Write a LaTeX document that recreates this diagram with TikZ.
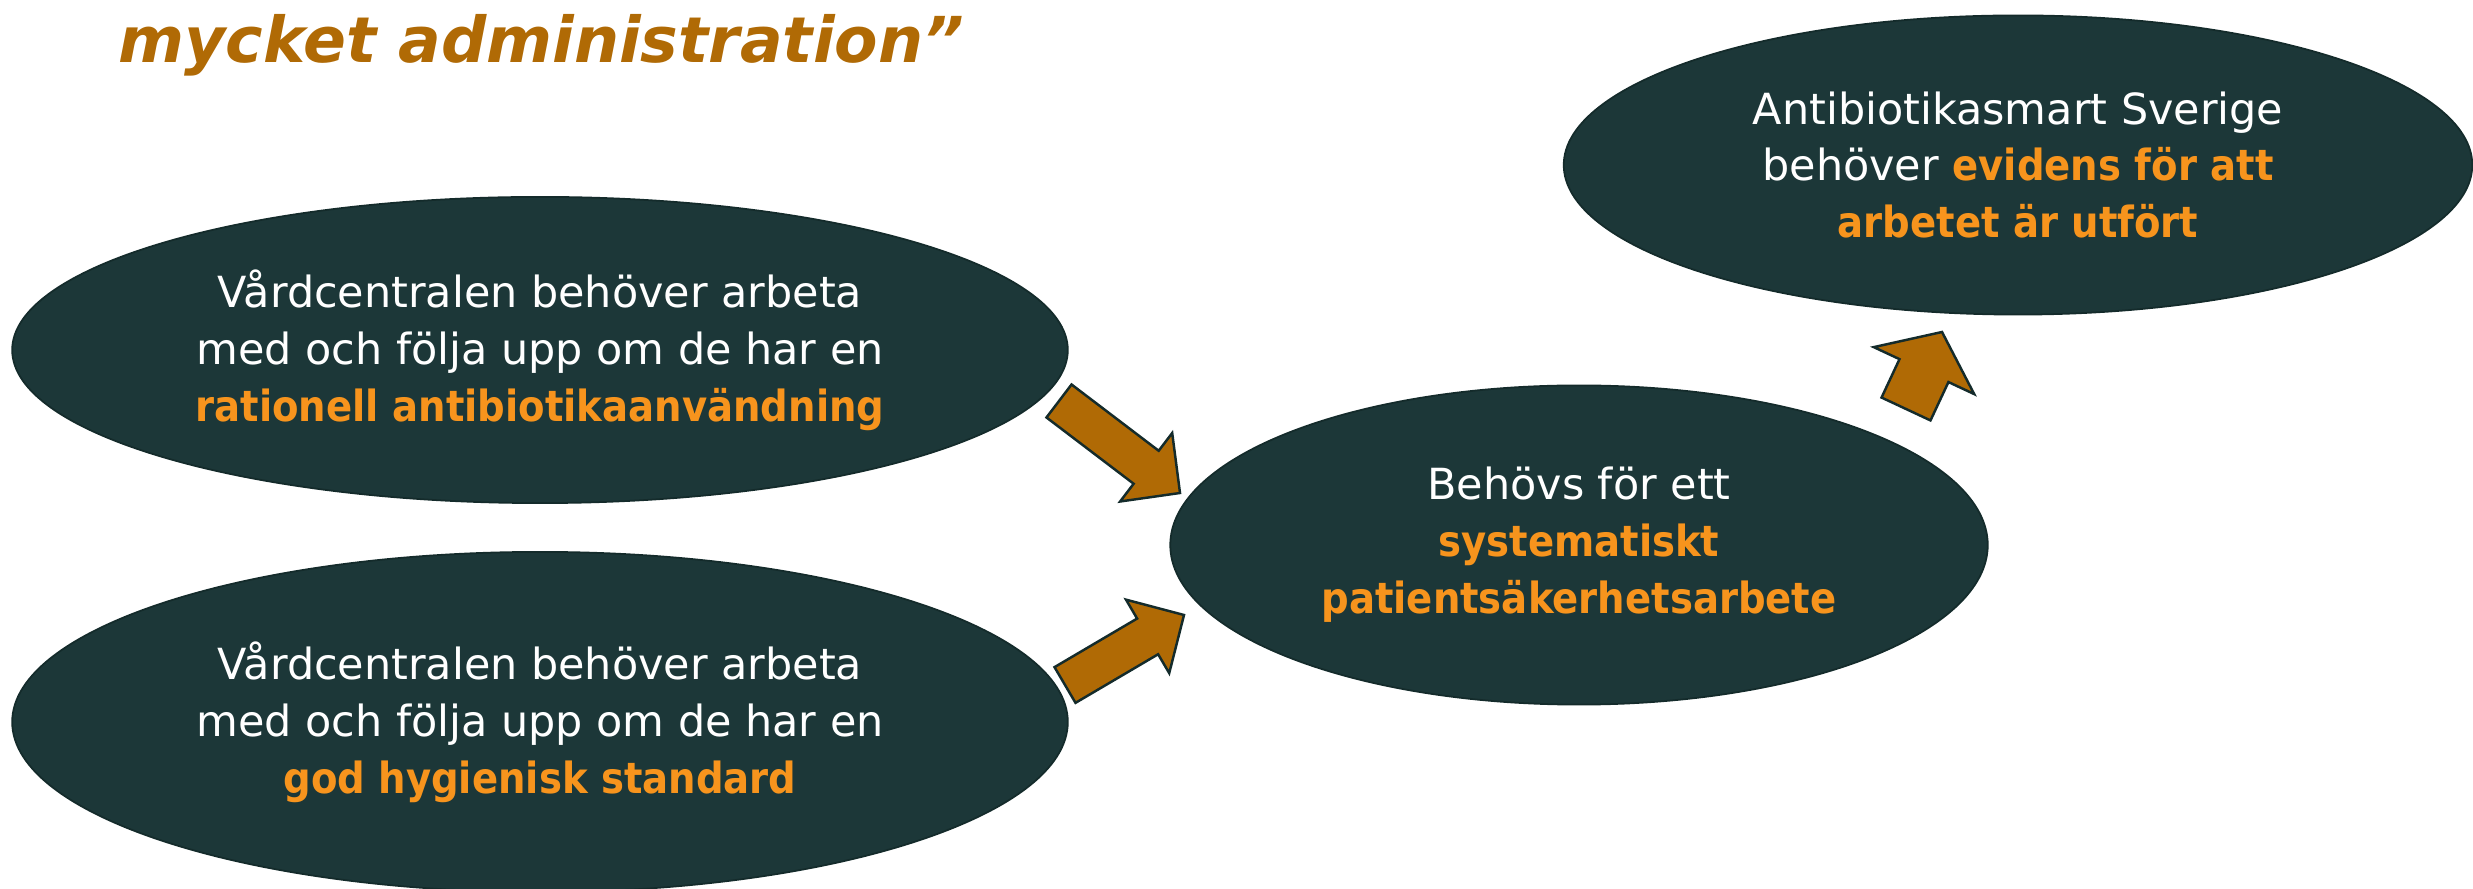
\documentclass[tikz,border=0pt]{standalone}
\usepackage{fontspec}
\setmainfont{DejaVu Sans}[BoldFeatures={FakeStretch=0.9}]
\newfontfamily\titlefont{DejaVu Sans}
\usetikzlibrary{shapes.geometric}
\usetikzlibrary{calc}
\definecolor{bubblefill}{HTML}{1C3738}
\definecolor{bubbleline}{HTML}{142B2B}
\definecolor{hiorange}{HTML}{F7941D}
\definecolor{arrowbrown}{HTML}{B06A05}
\newcommand{\hilite}[1]{{\color{hiorange}\bfseries #1}}
\newcommand{\blockarrow}[6]{%
\coordinate (#1b) at ($(#3)!#6!(#2)$);
\draw [arrowbody] ($(#2)!#4!90:(#3)$) -- ($(#1b)!#4!-90:(#2)$) -- ($(#1b)!#5!-90:(#2)$) -- (#3) -- ($(#1b)!#5!90:(#2)$) -- ($(#1b)!#4!90:(#2)$) -- ($(#2)!#4!-90:(#3)$) -- cycle;}

\begin{document}
\begin{tikzpicture}[x=0.01cm,y=-0.01cm,
bubble/.style={ellipse,fill=bubblefill,draw=bubbleline,line width=0.5pt,text=white,align=center,inner sep=0pt,font=\fontsize{12.2}{16.2}\selectfont},
arrowbody/.style={fill=arrowbrown,draw=bubbleline,line width=0.7pt,line join=miter},
titletext/.style={text=arrowbrown,inner sep=0pt,font=\titlefont\bfseries\itshape\fontsize{18}{22}\selectfont}]
\useasboundingbox (0,0) rectangle (2473,889);
\node [titletext,anchor=base west] (title) at (118,63) {mycket administration”};
\node [bubble,minimum width=10.55cm,minimum height=3.06cm] (rational) at (540,350) {Vårdcentralen behöver arbeta\\med och följa upp om de har en\\\hilite{rationell antibiotikaanvändning}};
\node [bubble,minimum width=10.55cm,minimum height=3.4cm] (hygien) at (540,722) {Vårdcentralen behöver arbeta\\med och följa upp om de har en\\\hilite{god hygienisk standard}};
\node [bubble,minimum width=8.17cm,minimum height=3.19cm] (psa) at (1579,545) {Behövs för ett\\\hilite{systematiskt}\\\hilite{patientsäkerhetsarbete}};
\node [bubble,minimum width=9.08cm,minimum height=2.99cm] (evidens) at (2018,165) {Antibiotikasmart Sverige\\behöver \hilite{evidens för att}\\\hilite{arbetet är utfört}};
\coordinate (a1s) at (1059,401);
\coordinate (a1t) at (1180,493);
\coordinate (a2s) at (1065,685);
\coordinate (a2t) at (1184,615);
\coordinate (a3s) at (1906,409);
\coordinate (a3t) at (1942,332);
\blockarrow{a1}{a1s}{a1t}{0.207cm}{0.43cm}{0.425cm}
\blockarrow{a2}{a2s}{a2t}{0.207cm}{0.426cm}{0.422cm}
\blockarrow{a3}{a3s}{a3t}{0.27cm}{0.554cm}{0.426cm}
\end{tikzpicture}
\end{document}
